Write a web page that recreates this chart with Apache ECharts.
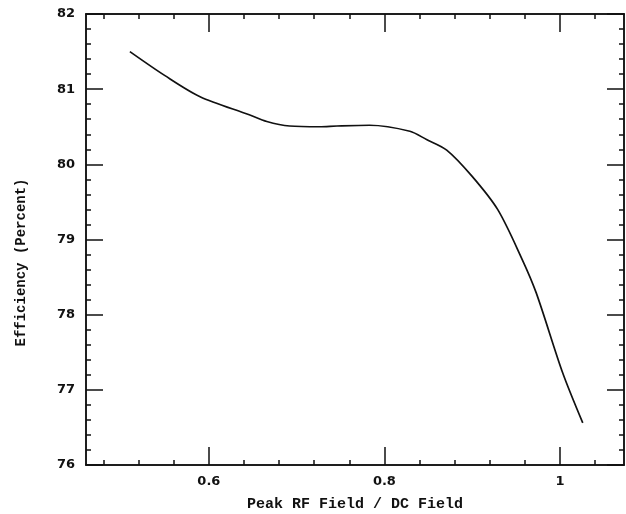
<!DOCTYPE html>
<html>
<head>
<meta charset="utf-8">
<script src="https://cdn.jsdelivr.net/npm/echarts@6/dist/echarts.min.js"></script>
<style>
  html, body { margin: 0; padding: 0; background: #fff; }
  #chart { width: 626px; height: 514px; }
</style>
</head>
<body>
<div id="chart"></div>
<script>
// curve
const fieldRatio = [0.51, 0.55, 0.59, 0.646, 0.666, 0.692, 0.726, 0.746, 0.783, 0.829, 0.848, 0.871, 0.9, 0.929, 0.956, 0.973, 1.003, 1.026];
const efficiency = [81.50, 81.18, 80.90, 80.66, 80.57, 80.51, 80.50, 80.51, 80.52, 80.44, 80.33, 80.19, 79.84, 79.40, 78.76, 78.29, 77.23, 76.56];

const xMajor = [0.6, 0.8, 1];
const xMinor = [0.48, 0.52, 0.56, 0.64, 0.68, 0.72, 0.76, 0.84, 0.88, 0.92, 0.96, 1.04];
const yMajor = [76, 77, 78, 79, 80, 81, 82];
const yMinor = [76.2, 76.4, 76.6, 76.8, 77.2, 77.4, 77.6, 77.8, 78.2, 78.4, 78.6, 78.8,
  79.2, 79.4, 79.6, 79.8, 80.2, 80.4, 80.6, 80.8, 81.2, 81.4, 81.6, 81.8];

const X_MIN = 0.46, X_MAX = 1.073;
const Y_MIN = 76, Y_MAX = 82;
const ink = '#111';
const labelFont = { color: ink, fontFamily: 'DejaVu Sans', fontSize: 13, fontWeight: 'bold' };

function xAx(pos, ticks, len, opts) {
  return Object.assign({
    type: 'value', position: pos, min: X_MIN, max: X_MAX,
    axisLine: { show: true, onZero: false, lineStyle: { color: ink, width: 1.5 } },
    axisTick: { show: true, inside: true, length: len, customValues: ticks, lineStyle: { color: ink, width: 1.5 } },
    axisLabel: { show: false },
    splitLine: { show: false }
  }, opts || {});
}
function yAx(pos, ticks, len, opts) {
  return Object.assign({
    type: 'value', position: pos, min: Y_MIN, max: Y_MAX,
    axisLine: { show: true, onZero: false, lineStyle: { color: ink, width: 1.5 } },
    axisTick: { show: true, inside: true, length: len, customValues: ticks, lineStyle: { color: ink, width: 1.5 } },
    axisLabel: { show: false },
    splitLine: { show: false }
  }, opts || {});
}

const chart = echarts.init(document.getElementById('chart'));
chart.setOption({
  animation: false,
  backgroundColor: '#fff',
  grid: { left: 86, right: 2, top: 14, bottom: 49, outerBoundsMode: 'none' },
  xAxis: [
    xAx('bottom', xMajor, 18, {
      name: 'Peak RF Field / DC Field', nameLocation: 'middle', nameGap: 32,
      nameTextStyle: { color: ink, fontFamily: 'Liberation Mono', fontSize: 15, fontWeight: 'bold' },
      axisLabel: Object.assign({ show: true, margin: 10, customValues: xMajor,
        formatter: v => String(+v.toFixed(1)) }, labelFont)
    }),
    xAx('bottom', xMinor, 5),
    xAx('top', xMajor, 18),
    xAx('top', xMinor, 5)
  ],
  yAxis: [
    yAx('left', yMajor, 17, {
      name: 'Efficiency (Percent)', nameLocation: 'middle', nameGap: 58,
      nameTextStyle: { color: ink, fontFamily: 'Liberation Mono', fontSize: 14, fontWeight: 'bold',
        padding: [0, 46, 0, 0] },
      axisLabel: Object.assign({ show: true, margin: 11, customValues: yMajor }, labelFont)
    }),
    yAx('left', yMinor, 5),
    yAx('right', yMajor, 17),
    yAx('right', yMinor, 5)
  ],
  series: [{
    type: 'line',
    xAxisIndex: 0,
    yAxisIndex: 0,
    data: fieldRatio.map((x, i) => [x, efficiency[i]]),
    showSymbol: false,
    smooth: 0.3,
    lineStyle: { color: ink, width: 1.7 }
  }]
});
</script>
</body>
</html>
